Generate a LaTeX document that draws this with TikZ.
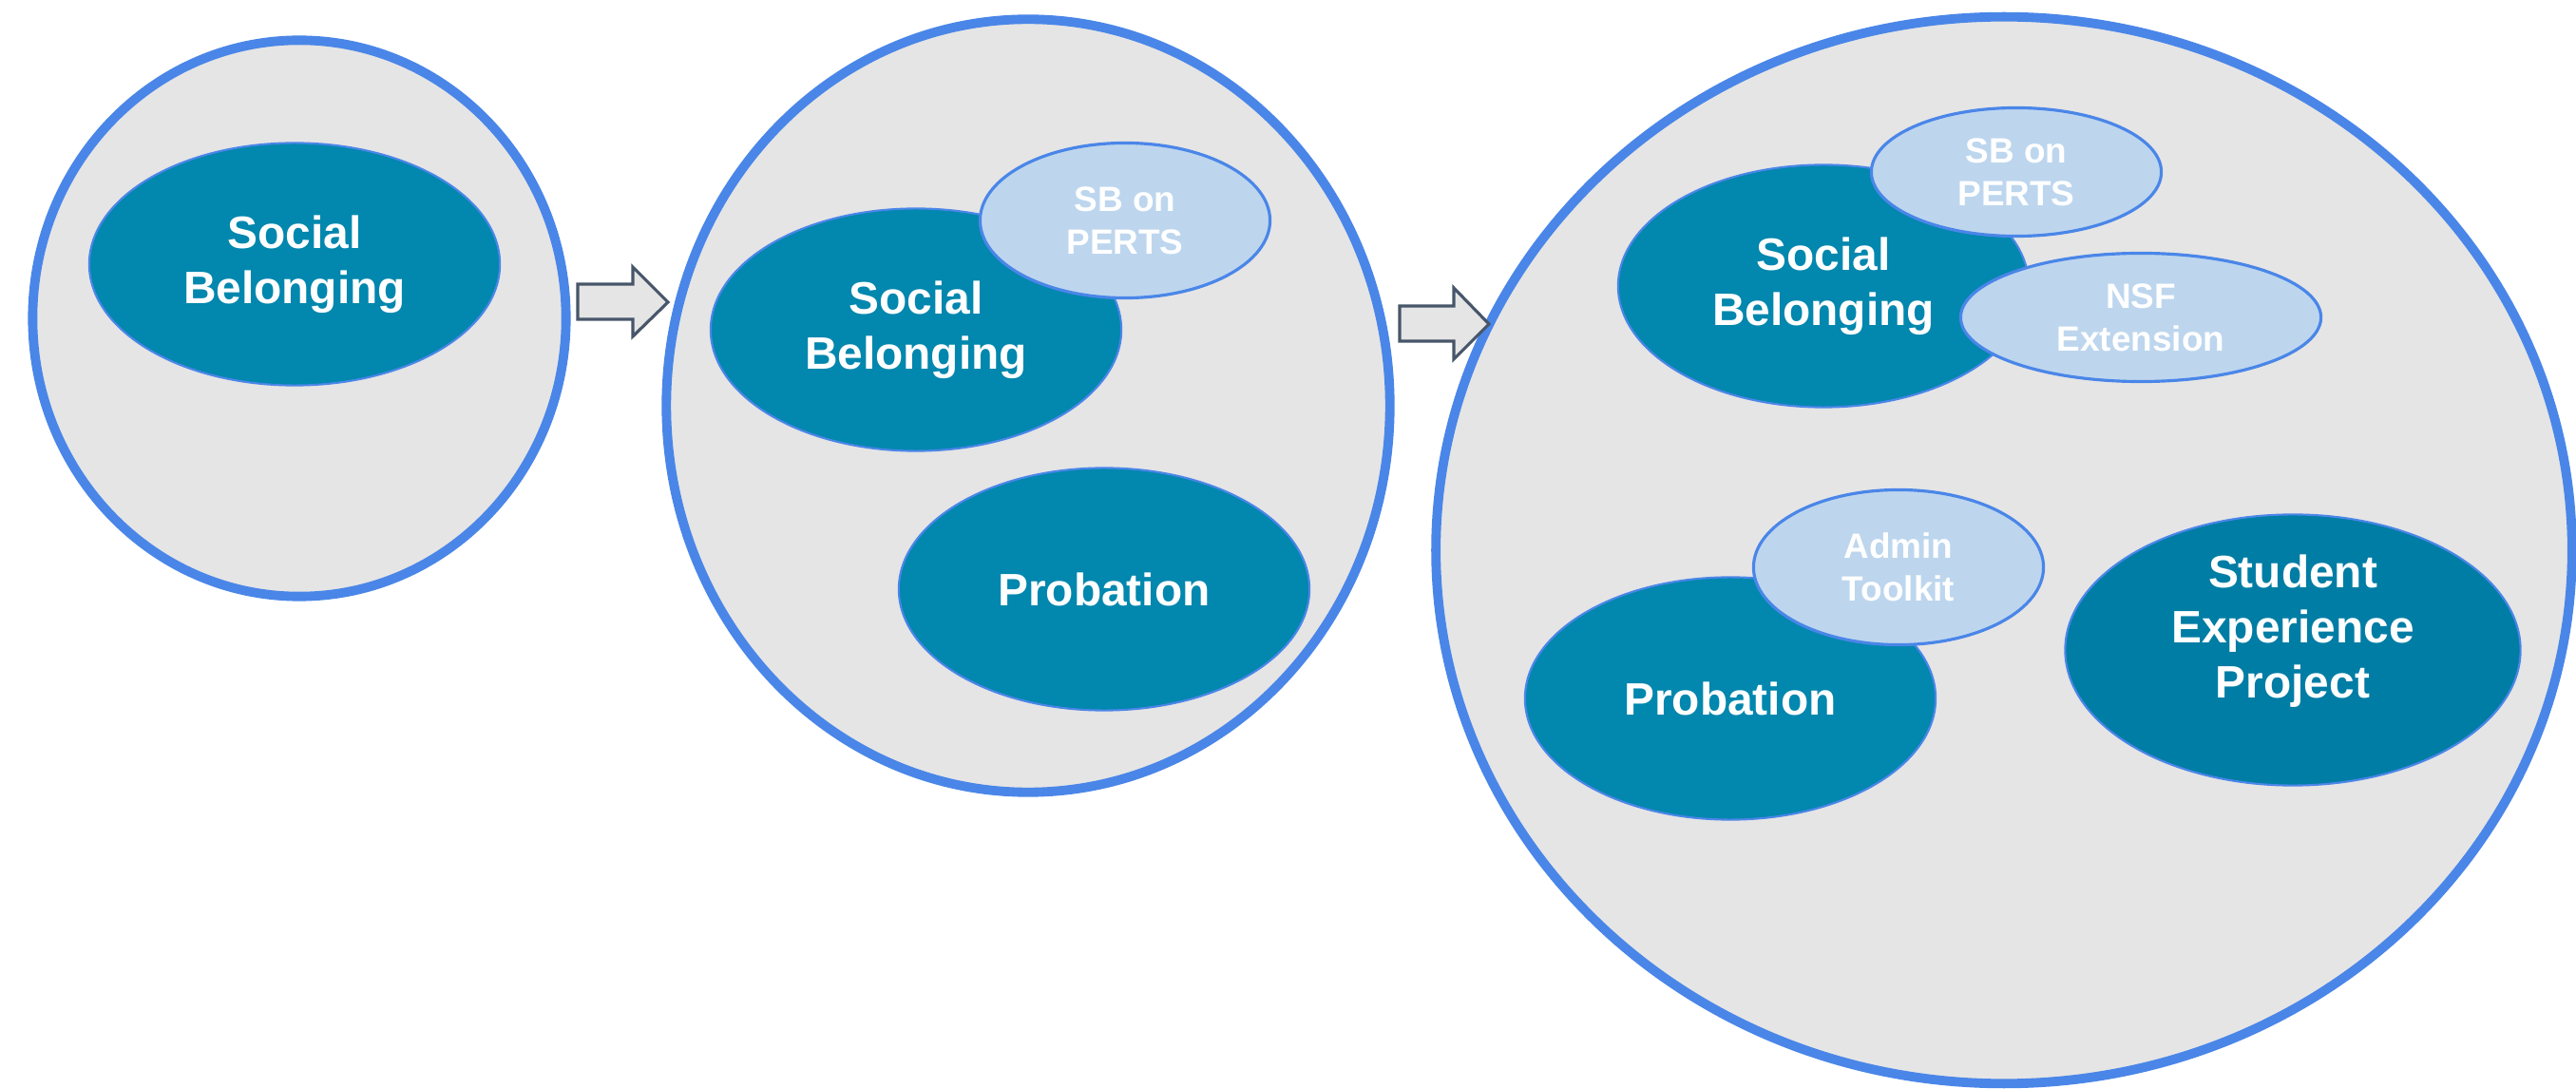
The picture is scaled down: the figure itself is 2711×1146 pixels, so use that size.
\documentclass[tikz,border=0pt]{standalone}
\usepackage{fontspec}
\setsansfont{Liberation Sans}
\usetikzlibrary{shapes.geometric}
\definecolor{ringblue}{RGB}{74,134,232}
\definecolor{ringgrey}{RGB}{229,229,229}
\definecolor{topicblue}{RGB}{2,135,174}
\definecolor{topicdark}{RGB}{0,125,165}
\definecolor{subblue}{RGB}{189,214,238}
\definecolor{arrowgrey}{RGB}{72,86,106}

\begin{document}
\begin{tikzpicture}[x=0.01cm,y=-0.01cm,
        stage/.style={ellipse,draw=ringblue,fill=ringgrey,line width=2.8pt,inner sep=0pt},
        topic/.style={ellipse,draw=ringblue,fill=topicblue,line width=0.6pt,inner sep=0pt,
            minimum width=4.32cm,minimum height=2.55cm,text=white,align=center,
            font=\sffamily\bfseries\fontsize{13.6}{16.4}\selectfont},
        topictext/.style={text=white,align=center,inner sep=0pt,
            font=\sffamily\bfseries\fontsize{13.6}{16.4}\selectfont},
        extra/.style={ellipse,draw=ringblue,fill=subblue,line width=0.9pt,inner sep=0pt,
            minimum width=3.05cm,minimum height=1.63cm,text=white,align=center,
            font=\sffamily\bfseries\fontsize{10.5}{12.8}\selectfont},
        flow/.style={draw=arrowgrey,fill=ringgrey,line width=0.9pt,line join=miter}]
            \useasboundingbox (0,0) rectangle (2711,1146);

            \node[stage,minimum width=5.61cm,minimum height=5.85cm] (stage1) at (315,335){};
            \node[stage,minimum width=7.61cm,minimum height=8.13cm] (stage2) at (1082,427){};
            \node[stage,minimum width=11.95cm,minimum height=11.22cm] (stage3) at (2109,579){};

            \node[topic] (belong1) at (310,278){Social\\Belonging};

            \node[topic] (belong2) at (964,347){Social\\Belonging};
            \node[topic] (probation2) at (1162,620){Probation};
            \node[extra] (perts2) at (1184,232){SB on\\PERTS};

            \node[topic] (belong3) at (1919,301){Social\\Belonging};
            \node[topic] (probation3) at (1821,735){Probation};
            \node[topic,fill=topicdark,minimum width=4.79cm,minimum height=2.85cm] (sep3) at (2413,684){};
            \node[topictext] (septext) at (2413,664){Student\\Experience\\Project};
            \node[extra,minimum height=1.35cm] (perts3) at (2122,181){SB on\\PERTS};
            \node[extra,minimum width=3.79cm,minimum height=1.35cm] (nsf3) at (2253,334){NSF\\Extension};
            \node[extra] (toolkit3) at (1998,597){Admin\\Toolkit};

            \draw[flow] (608,299) -- (666,299) -- (666,281) -- (703,318) -- (666,354) -- (666,336) -- (608,336) -- cycle;
            \draw[flow] (1473,322) -- (1530,322) -- (1530,303) -- (1567,341) -- (1530,378) -- (1530,359) -- (1473,359) -- cycle;
        \end{tikzpicture}
\end{document}
